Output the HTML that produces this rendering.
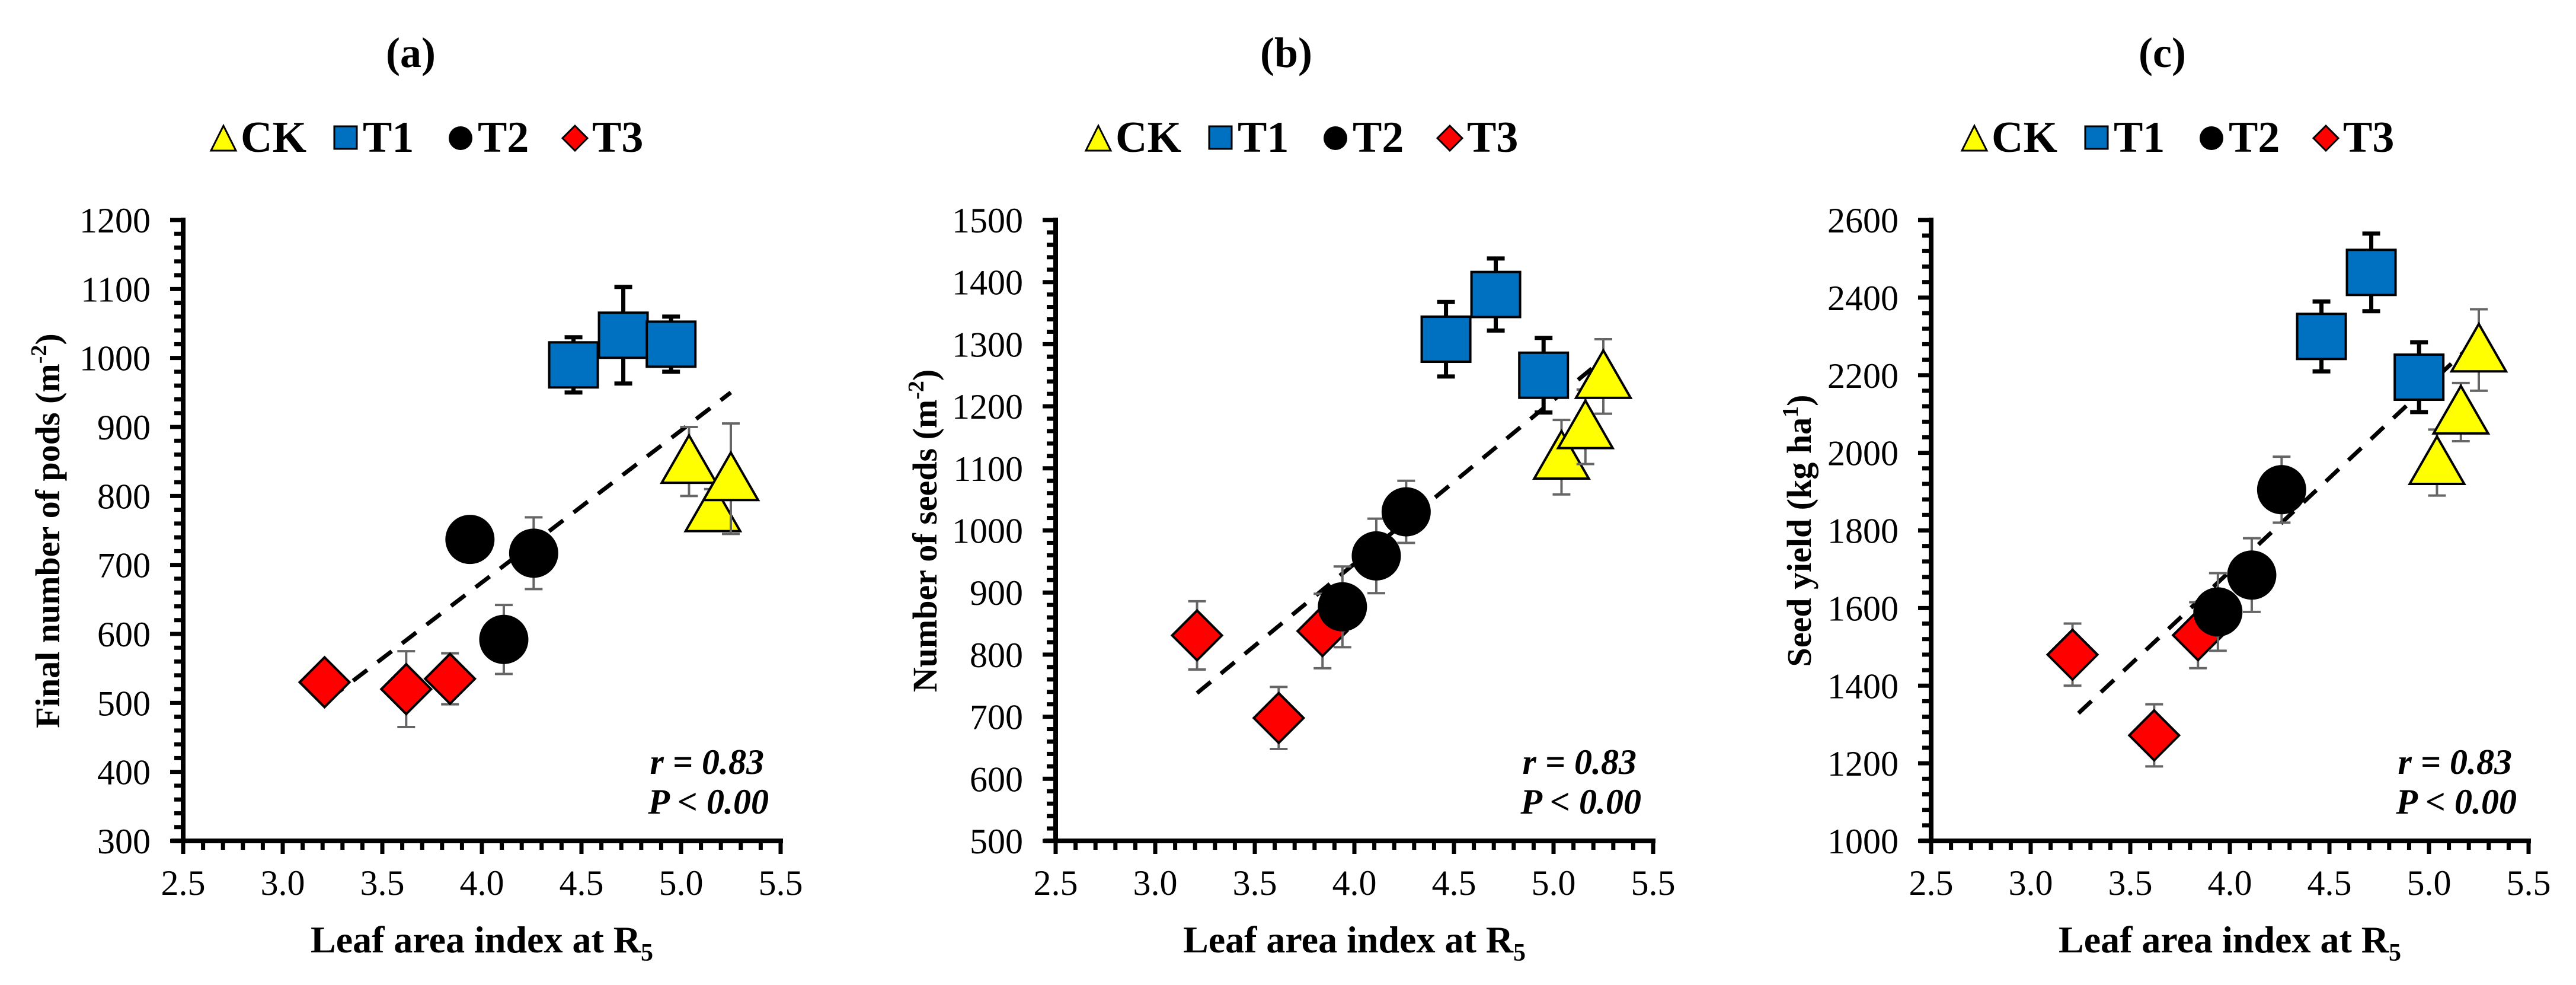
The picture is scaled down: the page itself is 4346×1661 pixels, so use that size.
<!DOCTYPE html>
<html><head><meta charset="utf-8"><style>
html,body{margin:0;padding:0;background:#fff;}
svg{display:block;font-family:"Liberation Serif",serif;}
</style></head><body>
<svg id="fig" width="4346" height="1661" viewBox="0 0 4346 1661" xmlns="http://www.w3.org/2000/svg"></svg>
<script>
// ---- data ----
const xTicks = [2.5, 3.0, 3.5, 4.0, 4.5, 5.0, 5.5];
const xTickLabels = ["2.5","3.0","3.5","4.0","4.5","5.0","5.5"];

const aYTicks = [300,400,500,600,700,800,900,1000,1100,1200];
const bYTicks = [500,600,700,800,900,1000,1100,1200,1300,1400,1500];
const cYTicks = [1000,1200,1400,1600,1800,2000,2200,2400,2600];

const ckLAI = [5.04, 5.16, 5.25];
const t1LAI = [4.46, 4.71, 4.95];
const t2LAI = [3.94, 4.11, 4.26];
const t3LAI = [3.21, 3.62, 3.84];

const aCK = [850, 780, 825];   const aCKerr = [50, 30, 80];
const aT1 = [990, 1033, 1020]; const aT1err = [40, 70, 40];
const aT2 = [737, 592, 717];   const aT2err = [8, 50, 52];
const aT3 = [530, 520, 535];   const aT3err = [8, 55, 37];
const aTrendX = [3.23, 5.25];  const aTrendY = [505, 950];

const bCK = [1118, 1167, 1248];  const bCKerr = [60, 60, 60];
const bT1 = [1308, 1380, 1250];  const bT1err = [60, 58, 60];
const bT2 = [877, 959, 1030];    const bT2err = [65, 60, 50];
const bT3 = [831, 698, 838];     const bT3err = [55, 50, 60];
const bTrendX = [3.21, 5.25];    const bTrendY = [738, 1276];

const cCK = [1975, 2105, 2265];  const cCKerr = [85, 75, 105];
const cT1 = [2300, 2465, 2195];  const cT1err = [90, 100, 90];
const cT2 = [1590, 1685, 1905];  const cT2err = [100, 95, 85];
const cT3 = [1480, 1272, 1530];  const cT3err = [80, 80, 85];
const cTrendX = [3.24, 5.25];    const cTrendY = [1329, 2296];

const NS = "http://www.w3.org/2000/svg";
const svg = document.getElementById("fig");
function mk(tag, attrs, parent){
  const e = document.createElementNS(NS, tag);
  for (const k in attrs) e.setAttribute(k, attrs[k]);
  (parent||svg).appendChild(e);
  return e;
}

function drawMarker(g, type, cx, cy){
  let m;
  if (type==="ck"){
    m = mk("polygon",{points:`${cx},${cy-44} ${cx+46},${cy+36} ${cx-46},${cy+36}`,fill:"#ffff00",stroke:"#000","stroke-width":4},g);
  } else if (type==="t1"){
    m = mk("rect",{x:cx-41,y:cy-38,width:82,height:76,fill:"#0070c0",stroke:"#000","stroke-width":4},g);
  } else if (type==="t2"){
    m = mk("ellipse",{cx:cx,cy:cy,rx:40,ry:40,fill:"#000",stroke:"#000","stroke-width":3},g);
  } else {
    m = mk("polygon",{points:`${cx},${cy-42} ${cx+42},${cy} ${cx},${cy+42} ${cx-42},${cy}`,fill:"#ff0000",stroke:"#000","stroke-width":4},g);
  }
  return m;
}

function panel(p){
  const x0=p.x0, x1=p.x0+1008, yT=371, yB=1418;
  const ymin=p.yTicks[0], ymax=p.yTicks[p.yTicks.length-1];
  const sx = v => x0 + (v-2.5)/3*(x1-x0);
  const sy = v => yB - (v-ymin)/(ymax-ymin)*(yB-yT);
  const g = mk("g",{});
  
  

  const t = mk("text",{x:p.titleX,y:113,"font-size":72,"font-weight":"bold","text-anchor":"middle"},g);
  t.textContent = "("+p.id+")";
  
  

  // legend
  const lg = mk("g",{},g);
  
  
  const L = p.legX;
  const items = [["ck","CK",0],["t1","T1",206],["t2","T2",400],["t3","T3",593]];
  items.forEach(it=>{
    const ig = mk("g",{},lg);
    
    
    const bx=L+it[2];
    if(it[0]==="ck") mk("polygon",{points:`${bx+21},212 ${bx+42},254 ${bx},254`,fill:"#ffff00",stroke:"#000","stroke-width":3},ig);
    if(it[0]==="t1") mk("rect",{x:bx+2,y:213,width:38,height:38,fill:"#0070c0",stroke:"#000","stroke-width":3},ig);
    if(it[0]==="t2") mk("circle",{cx:bx+21,cy:233,r:20,fill:"#000"},ig);
    if(it[0]==="t3") mk("polygon",{points:`${bx+21},212 ${bx+42},233 ${bx+21},254 ${bx},233`,fill:"#ff0000",stroke:"#000","stroke-width":3},ig);
    const tt = mk("text",{x:bx+50,y:256,"font-size":74,"font-weight":"bold"},ig);
    tt.textContent = it[1];
  });

  // axes
  const ax = mk("g",{},g);
  
  
  mk("line",{x1:x0,y1:yT-4,x2:x0,y2:yB+4,stroke:"#000","stroke-width":8},ax);
  mk("line",{x1:x0-20,y1:yB,x2:x1+4,y2:yB,stroke:"#000","stroke-width":8},ax);
  // y ticks
  const yStep = p.yTicks[1]-p.yTicks[0];
  for(let i=0;i<p.yTicks.length;i++){
    const v=p.yTicks[i], y=sy(v);
    mk("line",{x1:x0-22,y1:y,x2:x0,y2:y,stroke:"#000","stroke-width":7},ax);
    const lb = mk("text",{x:x0-55,y:y+21,"font-size":60,"text-anchor":"end"},ax);
    lb.textContent = v;
    
    
    if(i<p.yTicks.length-1){
      for(let k=1;k<5;k++){
        const ym = sy(v+yStep*k/5);
        mk("line",{x1:x0-15,y1:ym,x2:x0,y2:ym,stroke:"#000","stroke-width":7},ax);
      }
    }
  }
  // x ticks
  for(let i=0;i<xTicks.length;i++){
    const x=sx(xTicks[i]);
    mk("line",{x1:x,y1:yB,x2:x,y2:yB+22,stroke:"#000","stroke-width":7},ax);
    const lb = mk("text",{x:x,y:yB+91,"font-size":60,"text-anchor":"middle"},ax);
    lb.textContent = xTickLabels[i];
    
    
    if(i<xTicks.length-1){
      for(let k=1;k<5;k++){
        const xm = sx(xTicks[i]+0.1*k);
        mk("line",{x1:xm,y1:yB,x2:xm,y2:yB+15,stroke:"#000","stroke-width":7},ax);
      }
    }
  }
  const xt = mk("text",{x:(x0+x1)/2,y:1606,"font-size":64,"font-weight":"bold","text-anchor":"middle"},g);
  xt.innerHTML = 'Leaf area index at R<tspan font-size="42" dy="14">5</tspan>';
  
  

  const yt = mk("text",{x:0,y:0,"font-size":58,"font-weight":"bold","text-anchor":"middle",transform:`translate(${p.ytX},895) rotate(-90)`},g);
  yt.innerHTML = p.yTitle;
  
  

  // trend line
  const tl = mk("line",{x1:sx(p.trendX[0]),y1:sy(p.trendY[0]),x2:sx(p.trendX[1]),y2:sy(p.trendY[1]),stroke:"#000","stroke-width":7,"stroke-dasharray":"30 22"},g);
  
  

  // series
  const series = [["t3",t3LAI,p.t3,p.t3e,"#666",4],["t2",t2LAI,p.t2,p.t2e,"#666",4],["t1",t1LAI,p.t1,p.t1e,"#000",7],["ck",ckLAI,p.ck,p.cke,"#666",4]];
  series.forEach(s=>{
    const sg = mk("g",{},g);
    
    
    for(let i=0;i<s[1].length;i++){
      const cx=sx(s[1][i]), cy=sy(s[2][i]);
      const eb = mk("g",{},sg);
      
      
      const yt1=sy(s[2][i]+s[3][i]), yb1=sy(s[2][i]-s[3][i]);
      mk("line",{x1:cx,y1:yt1,x2:cx,y2:yb1,stroke:s[4],"stroke-width":s[5]},eb);
      mk("line",{x1:cx-15,y1:yt1,x2:cx+15,y2:yt1,stroke:s[4],"stroke-width":s[5]},eb);
      mk("line",{x1:cx-15,y1:yb1,x2:cx+15,y2:yb1,stroke:s[4],"stroke-width":s[5]},eb);
      const m = drawMarker(sg, s[0], cx, cy);
      
      
    }
  });

  const st = mk("g",{},g);
  
  
  const r = mk("text",{x:x0+980,y:1305,"font-size":60,"font-weight":"bold","font-style":"italic","text-anchor":"end"},st);
  r.textContent = "r = 0.83";
  const pp = mk("text",{x:x0+988,y:1372,"font-size":60,"font-weight":"bold","font-style":"italic","text-anchor":"end"},st);
  pp.textContent = "P < 0.00";
}

panel({id:"a",x0:309,titleX:693,legX:356,ytX:100,yTicks:aYTicks,
  yTitle:'Final number of pods (m<tspan font-size="38" dy="-22">-2</tspan><tspan dy="22">)</tspan>',
  ck:aCK,cke:aCKerr,t1:aT1,t1e:aT1err,t2:aT2,t2e:aT2err,t3:aT3,t3e:aT3err,trendX:aTrendX,trendY:aTrendY});
panel({id:"b",x0:1781,titleX:2170,legX:1832,ytX:1580,yTicks:bYTicks,
  yTitle:'Number of seeds (m<tspan font-size="38" dy="-22">-2</tspan><tspan dy="22">)</tspan>',
  ck:bCK,cke:bCKerr,t1:bT1,t1e:bT1err,t2:bT2,t2e:bT2err,t3:bT3,t3e:bT3err,trendX:bTrendX,trendY:bTrendY});
panel({id:"c",x0:3258,titleX:3648,legX:3310,ytX:3055,yTicks:cYTicks,
  yTitle:'Seed yield (kg ha<tspan font-size="38" dy="-22">1</tspan><tspan dy="22">)</tspan>',
  ck:cCK,cke:cCKerr,t1:cT1,t1e:cT1err,t2:cT2,t2e:cT2err,t3:cT3,t3e:cT3err,trendX:cTrendX,trendY:cTrendY});
</script>
</body></html>
